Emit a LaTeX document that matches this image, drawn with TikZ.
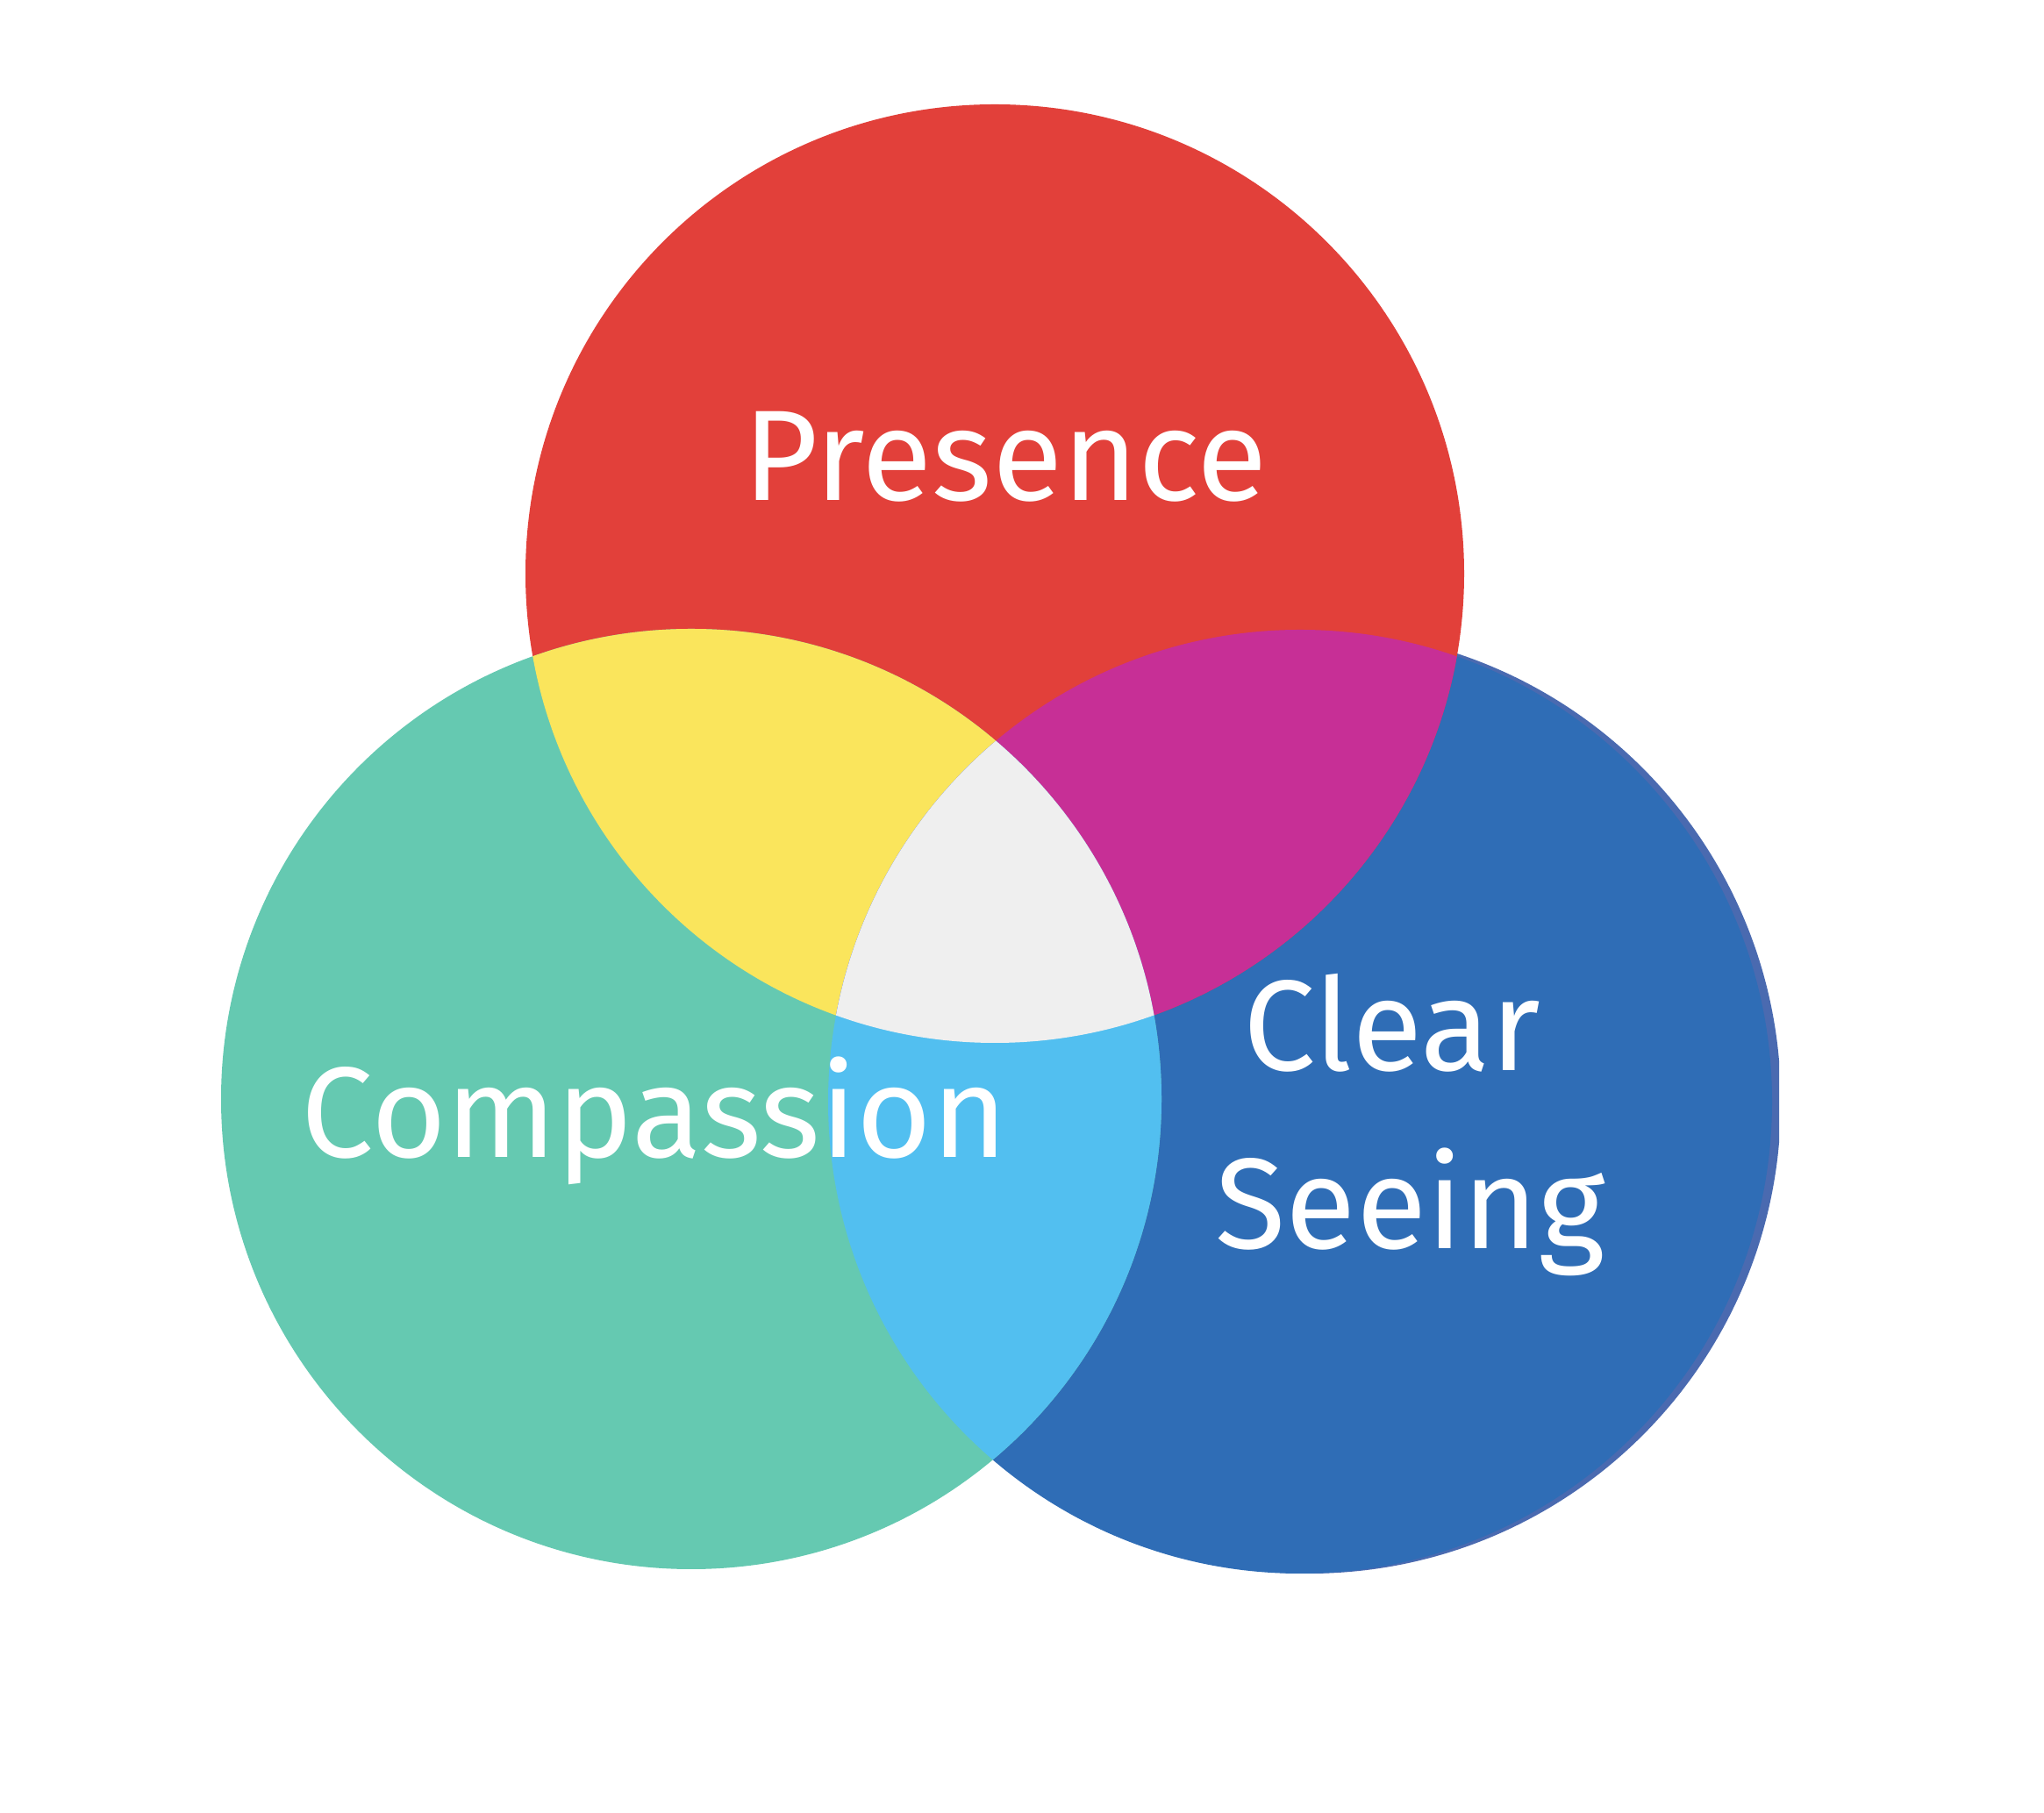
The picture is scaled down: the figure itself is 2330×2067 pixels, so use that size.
\documentclass[tikz,border=0pt]{standalone}
\usepackage{fontspec}
\setmainfont{Fira Sans}
\definecolor{cred}{HTML}{E2403A}
\definecolor{cgreen}{HTML}{65C9B1}
\definecolor{cblue}{HTML}{2F6DB6}
\definecolor{cyellow}{HTML}{FAE55C}
\definecolor{cmag}{HTML}{C72F96}
\definecolor{clblue}{HTML}{52BFF0}
\definecolor{cgray}{HTML}{EFEFEF}
\definecolor{cedge}{HTML}{4A6AB0}
\begin{document}
\begin{tikzpicture}[x=1pt,y=1pt,
  lbl/.style={text=white,anchor=base,inner sep=0pt,font=\fontsize{147}{160}\selectfont}]
\useasboundingbox (0,0) rectangle (2330,2067);
\fill[white] (0,0) rectangle (2330,2067);
\coordinate (R) at (1134,1413);
\coordinate (G) at (788,814);
\coordinate (B) at (1482,811);
\def\rr{535}\def\rg{536}\def\rb{538}
\begin{scope}
\clip (0,0) rectangle (2028,2067);
\fill[cedge] (B) ++(10,0) circle (\rb);
\fill[cblue] (B) circle (\rb);
\end{scope}
\fill[cred] (R) circle (\rr);
\fill[cgreen] (G) circle (\rg);
\begin{scope}
\clip (R) circle (\rr);
\fill[cyellow] (G) circle (\rg);
\fill[cmag] (B) circle (\rb);
\end{scope}
\begin{scope}
\clip (G) circle (\rg);
\fill[clblue] (B) circle (\rb);
\clip (B) circle (\rb);
\fill[cgray] (R) circle (\rr);
\end{scope}
\node[lbl] (presence) at (1146,1496) {Presence};
\node[lbl] (compassion) at (746,747) {Compassion};
\node[lbl] (clear) at (1587,846) {Clear};
\node[lbl] (seeing) at (1608,643) {Seeing};
\end{tikzpicture}
\end{document}
